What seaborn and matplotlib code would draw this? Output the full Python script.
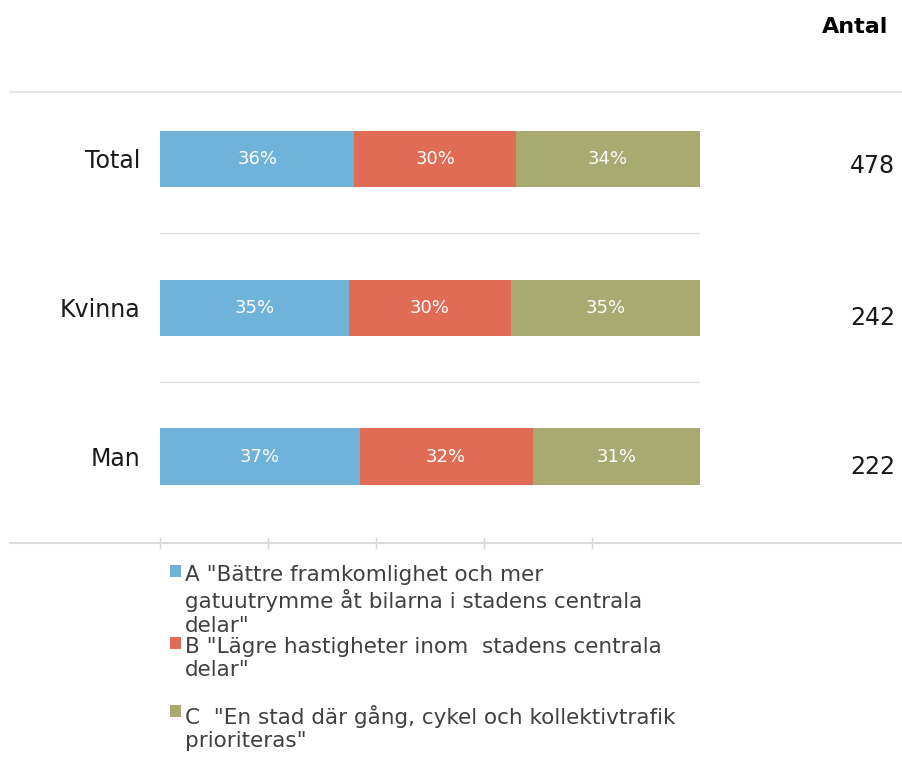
import pandas as pd
import matplotlib.pyplot as plt
import seaborn as sns
from matplotlib.lines import Line2D

# Data
groups = ["Total", "Kvinna", "Man"]
share_a = [36, 35, 37]
share_b = [30, 30, 32]
share_c = [34, 35, 31]
antal = [478, 242, 222]
legend_labels = [
    'A "Bättre framkomlighet och mer\ngatuutrymme åt bilarna i stadens centrala\ndelar"',
    'B "Lägre hastigheter inom  stadens centrala\ndelar"\n',
    'C  "En stad där gång, cykel och kollektivtrafik\nprioriteras"',
]
colors = ["#70B3DA", "#E06C55", "#A9A972"]

df = pd.DataFrame({"group": groups, "A": share_a, "B": share_b, "C": share_c})
df["AB"] = df["A"] + df["B"]
df["ABC"] = df["AB"] + df["C"]

sns.set_theme(style="white")
plt.rcParams["font.family"] = ["DejaVu Sans"]

W, H = 903, 757
fig = plt.figure(figsize=(W / 100, H / 100), dpi=100)
ax = fig.add_axes([160 / W, 1 - 543 / H, 540 / W, (543 - 92) / H])

# stacked bars drawn as cumulative totals, back to front
bw = 0.38
for col, c, lab in [("ABC", colors[2], legend_labels[2]),
                    ("AB", colors[1], legend_labels[1]),
                    ("A", colors[0], legend_labels[0])]:
    sns.barplot(data=df, y="group", x=col, color=c, width=bw, saturation=1,
                orient="h", ax=ax, label=lab, linewidth=0, edgecolor="none")

ax.set_xlim(0, 100)
ax.set_ylim(2.58, -0.45)
ax.set_xlabel("")
ax.set_ylabel("")
for s in ["top", "right", "left", "bottom"]:
    ax.spines[s].set_visible(False)

ax.set_xticks([0, 20, 40, 60, 80])
ax.set_xticklabels([])
ax.tick_params(axis="x", which="both", bottom=True, direction="inout", length=9,
               width=1, color="#d9d9d9")
ax.tick_params(axis="y", length=0, pad=14, labelsize=17, labelcolor="#1a1a1a")

# separators between groups
for yy in [0.5, 1.5]:
    ax.axhline(yy, color="#e3e3e3", lw=1)

# percent labels inside segments
for i, row in df.iterrows():
    starts = [0, row["A"], row["AB"]]
    for st, v in zip(starts, [row["A"], row["B"], row["C"]]):
        ax.text(st + v / 2, i, f"{v}%", ha="center", va="center",
                color="white", fontsize=13)

# counts column
fig.text(888 / W, 1 - 27 / H, "Antal", ha="right", va="center",
         fontsize=16, fontweight="bold", color="#000000")
count_y = [166, 318, 467]
for n, yp in zip(antal, count_y):
    fig.text(895 / W, 1 - yp / H, str(n), ha="right", va="center",
             fontsize=17, color="#1a1a1a")

# horizontal rules across the figure
fig.add_artist(Line2D([10 / W, 1], [1 - 92 / H, 1 - 92 / H], color="#e6e6e6", lw=1.5))
fig.add_artist(Line2D([10 / W, 1], [1 - 543 / H, 1 - 543 / H], color="#dcdcdc", lw=1.5))

# legend
handles, labels = ax.get_legend_handles_labels()
order = [labels.index(l) for l in legend_labels]
leg = ax.legend([handles[k] for k in order], [labels[k] for k in order],
                loc="upper left", bbox_to_anchor=(170 / W, 1 - 565 / H),
                bbox_transform=fig.transFigure, frameon=False, fontsize=15.5,
                handlelength=0.5, handleheight=0.5, handletextpad=0.2,
                labelspacing=0.05, borderaxespad=0, borderpad=0)
for t in leg.get_texts():
    t.set_color("#404040")
    t.set_linespacing(1.22)
for col in leg._legend_handle_box.get_children():
    for row in col.get_children():
        row.align = "top"

fig.savefig("out.png", dpi=100)
